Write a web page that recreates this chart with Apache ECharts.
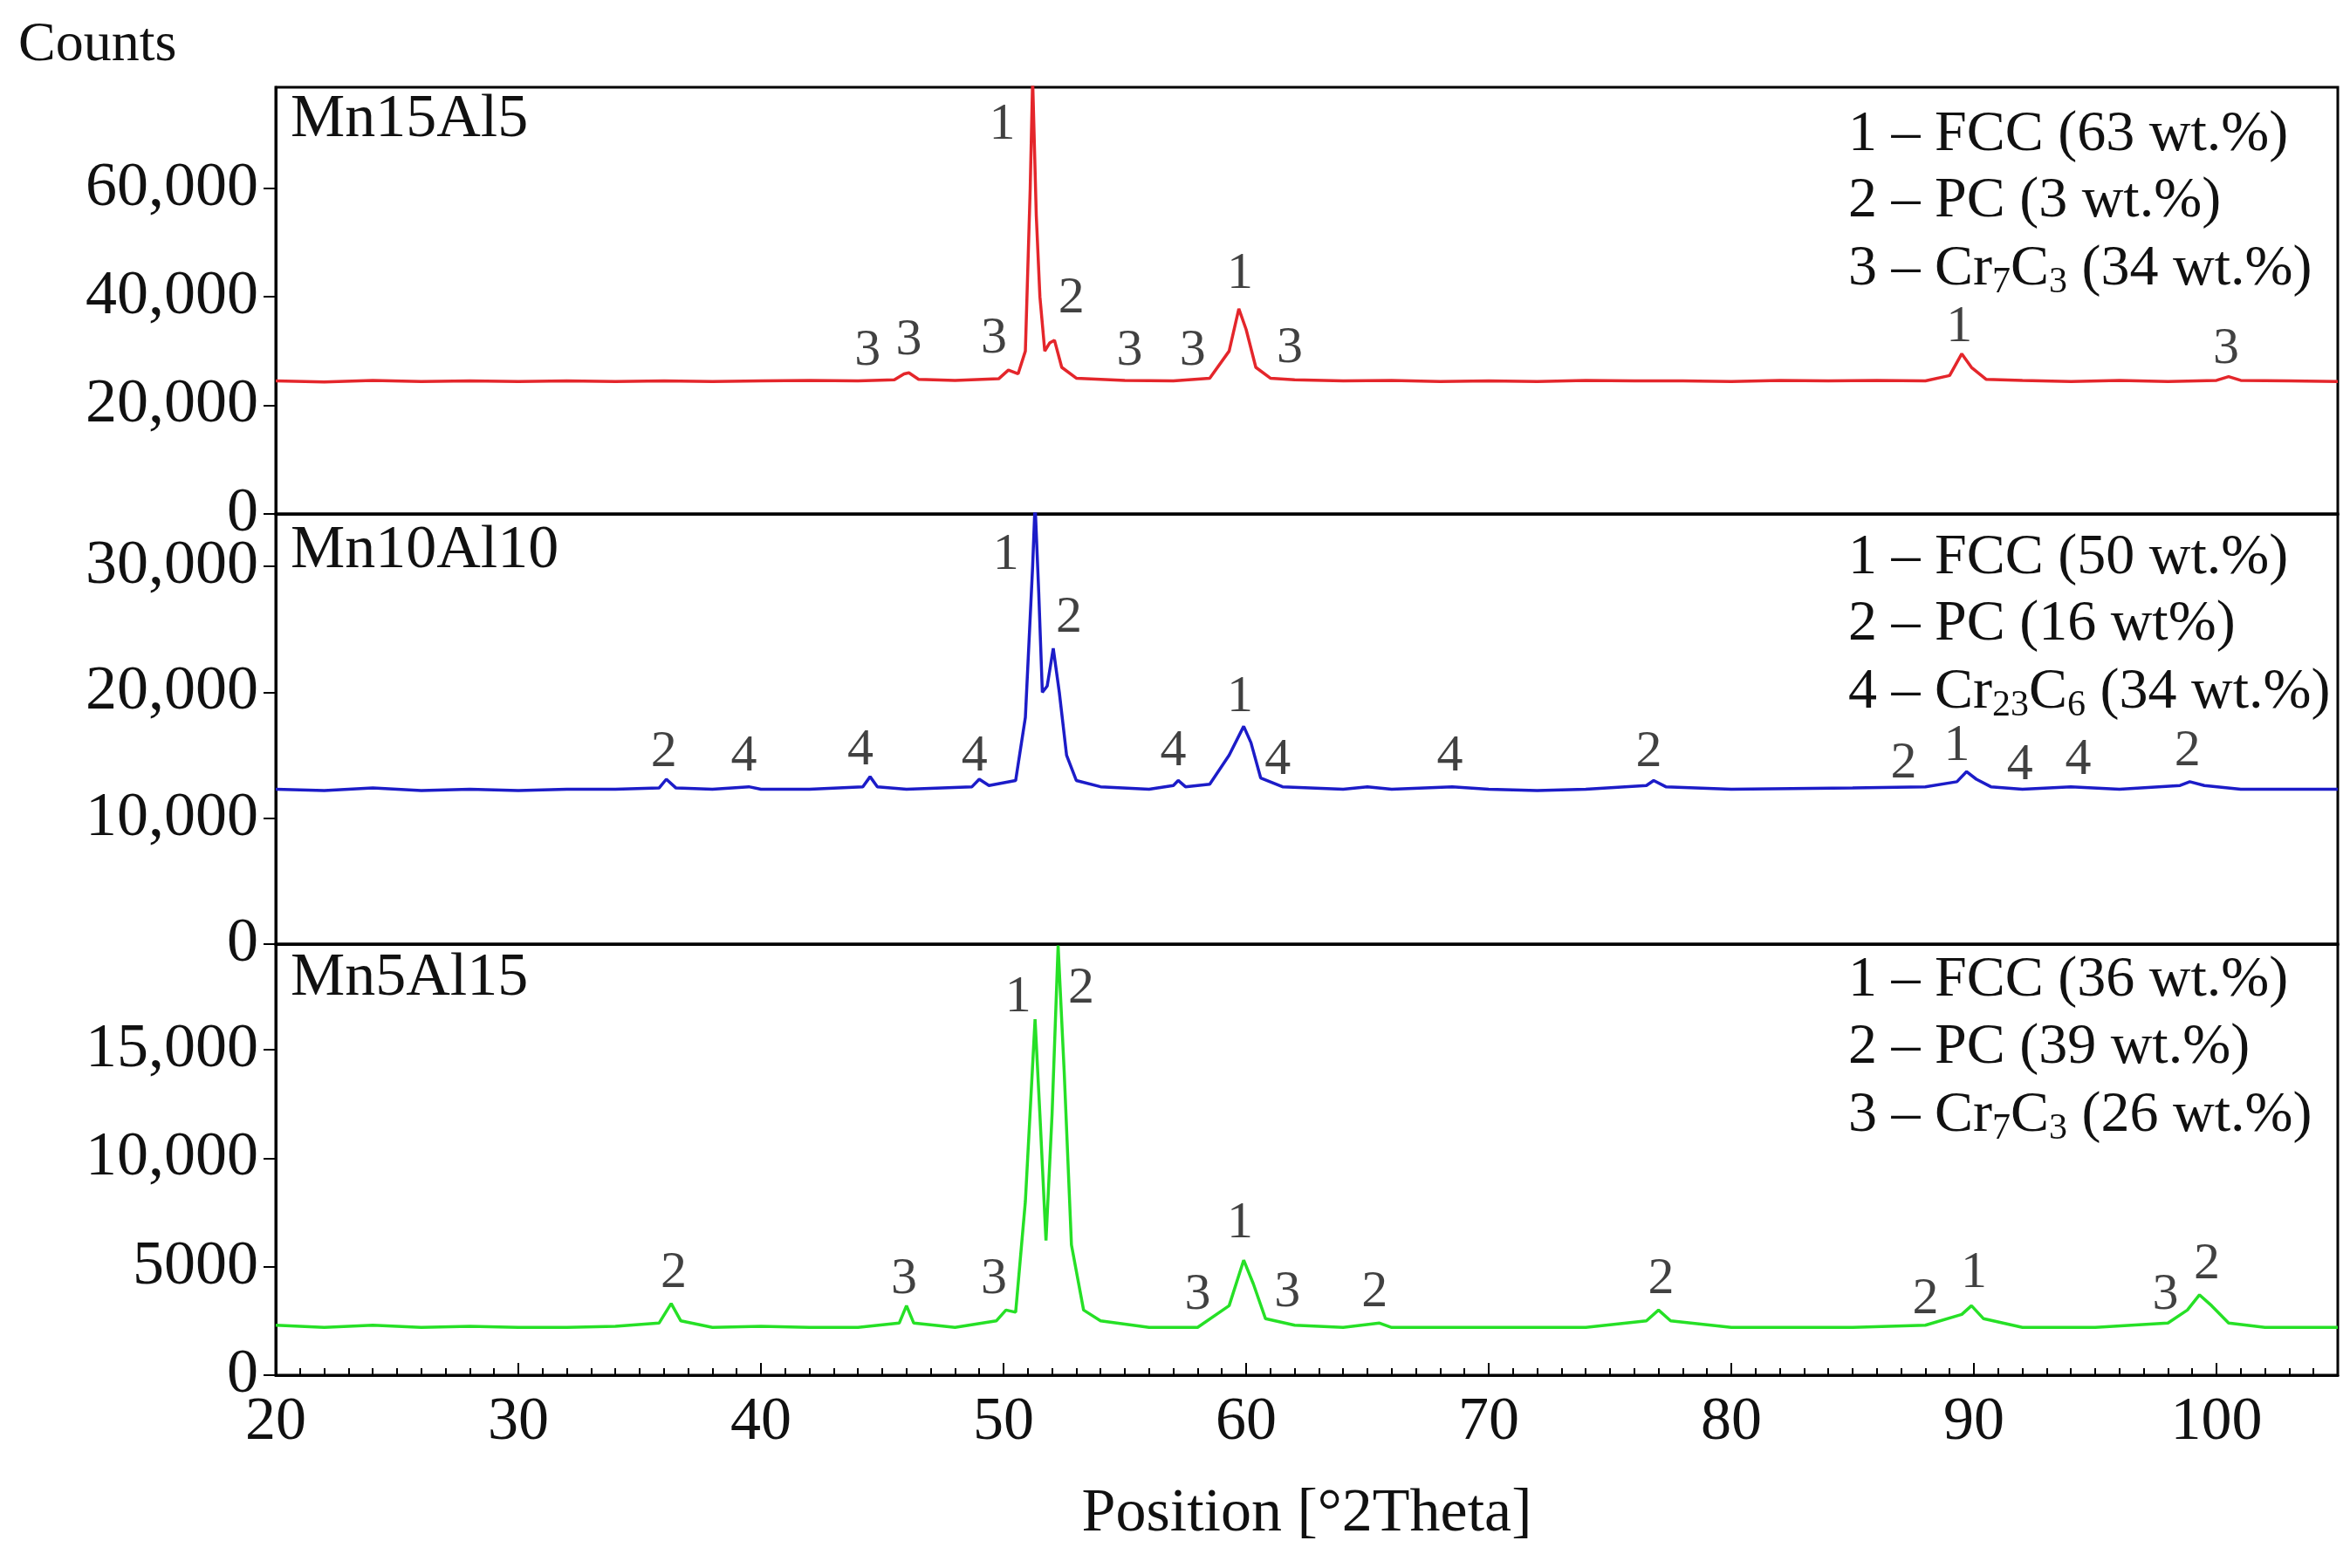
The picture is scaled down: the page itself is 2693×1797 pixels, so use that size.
<!DOCTYPE html>
<html><head><meta charset="utf-8">
<script src="https://cdn.jsdelivr.net/npm/echarts@6/dist/echarts.min.js"></script>
<style>html,body{margin:0;padding:0;background:#fff}#c{width:2693px;height:1797px}</style>
</head><body><div id="c"></div>
<script>
const xTicks=[20,30,40,50,60,70,80,90,100];
const panelNames=['Mn15Al5','Mn10Al10','Mn5Al15'];
const yMax=[78600,34170,19860];
const yInterval=[20000,10000,5000];
const colors=['#e4262b','#1c1cc8','#26e026'];
const mn15al5=[[20,24500],[22,24300],[24,24600],[26,24400],[28,24500],[30,24400],[32,24500],[34,24400],[36,24500],[38,24400],[40,24500],[42,24600],[44,24500],[45.5,24700],[45.9,25800],[46.1,26000],[46.5,24800],[48,24600],[49.8,24900],[50.2,26500],[50.6,25800],[50.9,30000],[51.1,60000],[51.2,80000],[51.35,55000],[51.5,40000],[51.7,30000],[51.9,31500],[52.1,32000],[52.4,27000],[53,25000],[55,24600],[57,24500],[58.5,25000],[59.3,30000],[59.7,37800],[60.0,34000],[60.4,27000],[61,25000],[62,24700],[64,24500],[66,24600],[68,24400],[70,24500],[72,24400],[74,24600],[76,24500],[78,24500],[80,24400],[82,24600],[84,24500],[86,24600],[88,24500],[89,25500],[89.5,29500],[89.9,27000],[90.5,24800],[92,24600],[94,24400],[96,24600],[98,24400],[100,24600],[100.5,25300],[101,24600],[103,24500],[105,24400]];
const mn10al10=[[20,12300],[22,12200],[24,12400],[26,12200],[28,12300],[30,12200],[32,12300],[34,12300],[35.8,12400],[36.1,13100],[36.5,12400],[38,12300],[39.5,12500],[40,12300],[42,12300],[44.2,12500],[44.5,13300],[44.8,12500],[46,12300],[48.7,12500],[49,13100],[49.4,12600],[50.5,13000],[50.9,18000],[51.2,30000],[51.3,35000],[51.45,28000],[51.6,20000],[51.8,20500],[52.05,23500],[52.3,20000],[52.6,15000],[53,13000],[54,12500],[56,12300],[57,12600],[57.2,13000],[57.5,12500],[58.5,12700],[59.3,15000],[59.9,17300],[60.2,16000],[60.6,13200],[61.5,12500],[64,12300],[65,12500],[66,12300],[68.5,12500],[70,12300],[72,12200],[74,12300],[76.5,12600],[76.8,13000],[77.3,12500],[80,12300],[85,12400],[88,12500],[89.3,12900],[89.7,13700],[90.1,13100],[90.7,12500],[92,12300],[94,12500],[96,12300],[98.5,12600],[98.9,12900],[99.5,12600],[101,12300],[105,12300]];
const mn5al15=[[20,2300],[22,2200],[24,2300],[26,2200],[28,2250],[30,2200],[32,2200],[34,2250],[35.8,2400],[36.3,3300],[36.7,2500],[38,2200],[40,2250],[42,2200],[44,2200],[45.7,2400],[46,3200],[46.3,2400],[48,2200],[49.7,2500],[50.1,3000],[50.5,2900],[50.9,8000],[51.3,16400],[51.5,12000],[51.75,6200],[52.0,12000],[52.25,19800],[52.5,14000],[52.8,6000],[53.3,3000],[54,2500],[56,2200],[58,2200],[59.3,3200],[59.9,5300],[60.3,4200],[60.8,2600],[62,2300],[64,2200],[65.5,2400],[66,2200],[70,2200],[74,2200],[76.5,2500],[77,3000],[77.5,2500],[80,2200],[85,2200],[88,2300],[89.5,2800],[89.9,3200],[90.4,2600],[92,2200],[95,2200],[98,2400],[98.8,3000],[99.3,3700],[99.8,3200],[100.5,2400],[102,2200],[105,2200]];
const notes1=[[49.95,71700,'1'],[44.4,30000,'3'],[46.1,32000,'3'],[49.6,32200,'3'],[52.8,39700,'2'],[55.2,30000,'3'],[57.8,30000,'3'],[59.75,44200,'1'],[61.8,30500,'3'],[89.4,34400,'1'],[100.4,30300,'3']];
const notes2=[[50.1,30900,'1'],[52.7,25900,'2'],[36.0,15200,'2'],[39.3,14900,'4'],[44.1,15400,'4'],[48.8,14900,'4'],[57.0,15300,'4'],[59.75,19600,'1'],[61.3,14600,'4'],[68.4,14900,'4'],[76.6,15200,'2'],[87.1,14300,'2'],[89.3,15700,'1'],[91.9,14200,'4'],[94.3,14600,'4'],[98.8,15300,'2']];
const notes3=[[50.6,17400,'1'],[53.2,17800,'2'],[36.4,4700,'2'],[45.9,4400,'3'],[49.6,4400,'3'],[58.0,3700,'3'],[59.75,7000,'1'],[61.7,3800,'3'],[65.3,3800,'2'],[77.1,4400,'2'],[88.0,3500,'2'],[90.0,4700,'1'],[97.9,3700,'3'],[99.6,5100,'2']];
const legends=[
 ['1 – FCC (63 wt.%)','2 – PC (3 wt.%)','3 – Cr{s|7}C{s|3} (34 wt.%)'],
 ['1 – FCC (50 wt.%)','2 – PC (16 wt%)','4 – Cr{s|23}C{s|6} (34 wt.%)'],
 ['1 – FCC (36 wt.%)','2 – PC (39 wt.%)','3 – Cr{s|7}C{s|3} (26 wt.%)']];
const FONT='Liberation Serif';
const grids=[{top:100,height:489},{top:589,height:493},{top:1082,height:494}];
const ch=echarts.init(document.getElementById('c'));
const series=[],xAxes=[],yAxes=[];
[mn15al5,mn10al10,mn5al15].forEach((d,i)=>{
  const last=i===2;
  xAxes.push({gridIndex:i,type:'value',min:20,max:105,interval:10,
    axisLine:{show:true,lineStyle:{color:'#000',width:3}},
    axisTick:{show:last,inside:true,length:14,lineStyle:{color:'#000',width:2}},
    minorTick:{show:last,splitNumber:10,length:8,lineStyle:{color:'#000',width:2}},
    splitLine:{show:false},
    axisLabel:{show:last,fontFamily:FONT,fontSize:70,color:'#111',margin:20,
      formatter:v=>xTicks.includes(v)?String(v):''},
    name:last?'Position [°2Theta]':'',nameLocation:'middle',nameGap:125,
    nameTextStyle:{fontFamily:FONT,fontSize:70,color:'#111'}});
  yAxes.push({gridIndex:i,type:'value',min:0,max:yMax[i],interval:yInterval[i],
    axisLine:{show:true,lineStyle:{color:'#000',width:3}},
    axisTick:{show:true,length:14,lineStyle:{color:'#000',width:2}},
    splitLine:{show:false},
    axisLabel:{showMaxLabel:false,fontFamily:FONT,fontSize:72,color:'#111',margin:20,
      formatter:v=>v>=10000?v.toLocaleString('en-US'):String(v)}});
  series.push({type:'line',xAxisIndex:i,yAxisIndex:i,data:d,symbol:'none',clip:true,
    lineStyle:{color:colors[i],width:3.5},silent:true});
});
[notes1,notes2,notes3].forEach((n,i)=>{
  series.push({type:'scatter',xAxisIndex:i,yAxisIndex:i,symbolSize:1,itemStyle:{color:'rgba(0,0,0,0)'},
    data:n.map(p=>({value:[p[0],p[1]],label:{formatter:p[2]}})),
    label:{show:true,position:'inside',fontFamily:FONT,fontSize:60,color:'#111'},silent:true});
});
const graphic=[{type:'text',left:21,top:20,style:{text:'Counts',fontFamily:FONT,fontSize:64,fill:'#111'}}];
const nameY=[138,632,1122];
const legY=[[155,231,309],[640,716,794],[1124,1201,1279]];
for(let i=0;i<3;i++){
  graphic.push({type:'text',x:333,y:nameY[i],style:{text:panelNames[i],fontFamily:FONT,fontSize:70,fill:'#111',verticalAlign:'middle'}});
  legends[i].forEach((t,j)=>{
    graphic.push({type:'text',x:2118,y:legY[i][j],style:{text:t,fontFamily:FONT,fontSize:66,fill:'#111',verticalAlign:'middle',
      rich:{s:{fontFamily:FONT,fontSize:42,fill:'#111',padding:[30,0,0,0]}}}});
  });
}
ch.setOption({animation:false,backgroundColor:'#fff',
  grid:grids.map(g=>({left:316,right:14,top:g.top,height:g.height,show:true,borderColor:'#000',borderWidth:3})),
  xAxis:xAxes,yAxis:yAxes,series,graphic});
</script></body></html>
